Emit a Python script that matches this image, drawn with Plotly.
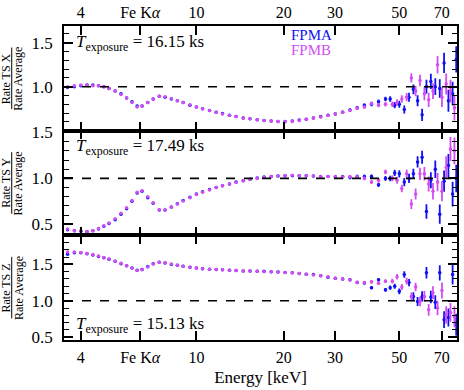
import plotly.graph_objects as go

# ---------------- data ----------------
E_LOW = [3.6, 3.8, 4.0, 4.2, 4.4, 4.6, 4.8, 5.0, 5.25, 5.5,
         5.75, 6.0, 6.25, 6.5, 6.8, 7.1, 7.45, 7.8, 8.2, 8.6,
         9.0, 9.5, 10.0, 10.5, 11.1, 11.7, 12.3, 13.0, 13.7, 14.5,
         15.3, 16.2, 17.1, 18.1, 19.1, 20.2, 21.4, 22.6, 23.9, 25.3,
         26.8, 28.4, 30.1, 31.9, 33.8, 35.8, 37.9, 40.1, 42.4, 44.8]
E_HIGH_A = [46.5, 48.2, 50.0, 52.0, 54.0, 55.9, 57.8, 59.9, 62.0, 64.2,
            66.5, 68.9, 71.3, 73.8, 76.3, 78.5]
E_HIGH_B = [47.3, 49.1, 51.0, 53.0, 55.0, 56.9, 58.9, 61.0, 63.1, 65.3,
            67.7, 70.1, 72.5, 75.0, 77.4]

ERR_LOW = [0.005, 0.005, 0.005, 0.005, 0.005, 0.005, 0.005, 0.005, 0.005, 0.005,
           0.005, 0.005, 0.005, 0.005, 0.005, 0.005, 0.005, 0.005, 0.005, 0.006,
           0.006, 0.006, 0.006, 0.006, 0.007, 0.007, 0.007, 0.007, 0.008, 0.008,
           0.008, 0.009, 0.009, 0.010, 0.010, 0.011, 0.011, 0.012, 0.013, 0.013,
           0.014, 0.015, 0.016, 0.017, 0.018, 0.019, 0.020, 0.022, 0.024, 0.026]
ERR_HIGH_A = [0.030, 0.035, 0.040, 0.045, 0.050, 0.056, 0.062, 0.070, 0.078, 0.086,
              0.095, 0.105, 0.115, 0.125, 0.135, 0.150]
ERR_HIGH_B = [0.032, 0.037, 0.042, 0.047, 0.053, 0.059, 0.066, 0.074, 0.082, 0.090,
              0.100, 0.110, 0.120, 0.130, 0.145]

# Panel X
X_LOW_A = [0.99, 1.00, 1.01, 1.02, 1.02, 1.01, 1.00, 0.98, 0.95, 0.92,
           0.87, 0.83, 0.78, 0.78, 0.82, 0.86, 0.89, 0.88, 0.86, 0.84,
           0.82, 0.79, 0.77, 0.75, 0.73, 0.71, 0.695, 0.675, 0.66, 0.645,
           0.635, 0.625, 0.615, 0.61, 0.605, 0.605, 0.61, 0.62, 0.63, 0.645,
           0.66, 0.675, 0.69, 0.71, 0.735, 0.76, 0.79, 0.80, 0.83, 0.86]
X_LOW_B = [1.00, 1.01, 1.02, 1.02, 1.01, 1.01, 1.00, 0.98, 0.95, 0.91,
           0.87, 0.82, 0.77, 0.78, 0.82, 0.86, 0.89, 0.885, 0.865, 0.84,
           0.82, 0.795, 0.77, 0.75, 0.73, 0.71, 0.69, 0.675, 0.66, 0.645,
           0.635, 0.625, 0.615, 0.61, 0.605, 0.60, 0.605, 0.615, 0.63, 0.645,
           0.655, 0.675, 0.69, 0.71, 0.73, 0.755, 0.77, 0.81, 0.79, 0.80]
X_HIGH_A = [0.86, 0.79, 0.80, 0.74, 0.88, 0.97, 0.84, 0.68, 1.00, 1.06,
            1.00, 0.98, 1.27, 0.84, 0.92, 1.31]
X_HIGH_B = [0.80, 0.82, 0.86, 0.88, 1.10, 0.95, 1.07, 0.92, 0.85, 0.95,
            1.25, 0.88, 1.03, 0.95, 0.76]

# Panel Y
Y_LOW_A = [0.44, 0.43, 0.425, 0.42, 0.43, 0.45, 0.48, 0.51, 0.55, 0.61,
           0.67, 0.75, 0.84, 0.86, 0.79, 0.73, 0.655, 0.655, 0.69, 0.725,
           0.76, 0.795, 0.83, 0.855, 0.88, 0.90, 0.92, 0.94, 0.96, 0.975,
           0.99, 1.005, 1.015, 1.02, 1.025, 1.03, 1.03, 1.03, 1.03, 1.025,
           1.02, 1.02, 1.015, 1.02, 1.01, 1.02, 1.02, 1.02, 0.93, 1.00]
Y_LOW_B = [0.45, 0.43, 0.43, 0.42, 0.43, 0.455, 0.485, 0.515, 0.56, 0.62,
           0.68, 0.76, 0.85, 0.865, 0.80, 0.735, 0.66, 0.655, 0.685, 0.72,
           0.755, 0.79, 0.825, 0.85, 0.875, 0.90, 0.92, 0.94, 0.955, 0.975,
           0.99, 1.00, 1.01, 1.02, 1.025, 1.03, 1.035, 1.03, 1.03, 1.025,
           1.02, 1.02, 1.02, 1.015, 1.02, 1.015, 1.00, 0.96, 0.98, 1.07]
Y_HIGH_A = [1.00, 1.06, 1.05, 0.96, 1.00, 1.05, 1.18, 1.23, 0.64, 0.98,
            1.10, 0.61, 0.97, 1.14, 0.83, 1.00]
Y_HIGH_B = [1.00, 0.98, 0.89, 1.05, 0.72, 0.83, 1.05, 1.05, 0.94, 0.86,
            0.96, 0.86, 1.12, 1.32, 1.30]

# Panel Z
Z_LOW_A = [1.64, 1.66, 1.66, 1.645, 1.63, 1.61, 1.59, 1.57, 1.545, 1.51,
           1.48, 1.45, 1.42, 1.43, 1.47, 1.51, 1.53, 1.52, 1.50, 1.49,
           1.475, 1.46, 1.45, 1.44, 1.435, 1.43, 1.425, 1.42, 1.415, 1.41,
           1.41, 1.405, 1.405, 1.40, 1.395, 1.39, 1.385, 1.375, 1.365, 1.36,
           1.345, 1.325, 1.31, 1.30, 1.29, 1.25, 1.245, 1.18, 1.29, 1.15]
Z_LOW_B = [1.67, 1.67, 1.665, 1.65, 1.635, 1.615, 1.595, 1.575, 1.545, 1.515,
           1.48, 1.45, 1.415, 1.425, 1.465, 1.505, 1.53, 1.525, 1.505, 1.49,
           1.475, 1.46, 1.45, 1.44, 1.435, 1.43, 1.425, 1.42, 1.415, 1.41,
           1.41, 1.405, 1.40, 1.40, 1.395, 1.39, 1.385, 1.375, 1.365, 1.355,
           1.345, 1.33, 1.31, 1.30, 1.285, 1.255, 1.25, 1.26, 1.24, 1.27]
Z_HIGH_A = [1.18, 1.20, 1.13, 1.36, 1.25, 1.06, 0.99, 1.06, 1.385, 1.05,
            0.98, 1.385, 0.74, 0.77, 1.36, 0.67]
Z_HIGH_B = [1.27, 1.33, 1.19, 1.27, 1.06, 1.19, 0.99, 1.06, 0.875, 1.11,
            0.90, 1.14, 0.805, 0.84, 0.78]

PANEL_LABELS = ["X", "Y", "Z"]
EXPOSURES = ["16.15", "17.49", "15.13"]
TICK_E = [4, 6.4, 10, 20, 30, 50, 70]
TICK_TXT = ["4", "Fe K<i>α</i>", "10", "20", "30", "50", "70"]

# ---------------- styling ----------------
FONT = "Liberation Serif, Times New Roman, DejaVu Serif, serif"
BLUE = "#1010f5"
MAG = "#d24ef2"
X_RANGE = [0.544, 1.8976]  # log10(3.5), log10(79)

panels = [
    dict(lowA=X_LOW_A, lowB=X_LOW_B, highA=X_HIGH_A, highB=X_HIGH_B,
         yr=[0.5, 1.69], ytv=[1.0, 1.5], dom=[0.6667, 1.0]),
    dict(lowA=Y_LOW_A, lowB=Y_LOW_B, highA=Y_HIGH_A, highB=Y_HIGH_B,
         yr=[0.38, 1.52], ytv=[0.5, 1.0, 1.5], dom=[0.3333, 0.6667]),
    dict(lowA=Z_LOW_A, lowB=Z_LOW_B, highA=Z_HIGH_A, highB=Z_HIGH_B,
         yr=[0.46, 1.90], ytv=[0.5, 1.0, 1.5], dom=[0.0, 0.3333]),
]

fig = go.Figure()
layout = dict()
shapes = []
annotations = []

for i, p in enumerate(panels):
    n = "" if i == 0 else str(i + 1)
    xa, ya = "x" + n, "y" + n
    for energies, vals, errs, col in [
        (E_LOW + E_HIGH_A, p["lowA"] + p["highA"], ERR_LOW + ERR_HIGH_A, BLUE),
        (E_LOW + E_HIGH_B, p["lowB"] + p["highB"], ERR_LOW + ERR_HIGH_B, MAG),
    ]:
        fig.add_trace(go.Scatter(
            x=energies, y=vals, mode="markers", xaxis=xa, yaxis=ya,
            marker=dict(color=col, size=3.5, symbol="circle"),
            error_y=dict(type="data", array=errs, color=col, thickness=1.8, width=0),
            showlegend=False, hoverinfo="skip"))

    xkw = dict(type="log", range=X_RANGE, anchor=ya, showline=True, linecolor="black",
               linewidth=1.6, mirror="ticks", ticks="inside", ticklen=9, tickwidth=1.6,
               tickcolor="black", tickmode="array", tickvals=TICK_E, ticktext=TICK_TXT,
               showgrid=False, zeroline=False, automargin=False,
               tickfont=dict(family=FONT, size=16, color="black"))
    if i == 0:
        xkw.update(side="top", showticklabels=True, ticklabelstandoff=0)
    elif i == 1:
        xkw.update(showticklabels=False)
    else:
        xkw.update(side="bottom", showticklabels=True, ticklabelstandoff=2,
                   title=dict(text="Energy [keV]", font=dict(family=FONT, size=17, color="black"),
                              standoff=6))
    layout["xaxis" + n] = xkw
    layout["yaxis" + n] = dict(
        domain=p["dom"], range=p["yr"], anchor=xa, showline=True, linecolor="black",
        linewidth=1.6, mirror="ticks", ticks="inside", ticklen=9, tickwidth=1.6,
        tickcolor="black", tickmode="array", tickvals=p["ytv"], tickformat=".1f",
        showgrid=False, zeroline=False, ticklabelstandoff=6, automargin=False,
        tickfont=dict(family=FONT, size=17, color="black"),
        minor=dict(tickmode="linear", tick0=0, dtick=0.1, ticks="inside", ticklen=5,
                   tickwidth=1.3, tickcolor="black", showgrid=False))

    # reference line at 1
    shapes.append(dict(type="line", xref=xa + " domain", yref=ya, x0=0, x1=1, y0=1, y1=1,
                       line=dict(color="black", width=1.6, dash="dash")))

    # y title as fraction
    yc = (p["dom"][0] + p["dom"][1]) / 2
    annotations.append(dict(text="Rate TS " + PANEL_LABELS[i], xref="paper", yref="paper",
                            x=-0.148, y=yc, textangle=-90, showarrow=False,
                            xanchor="center", yanchor="middle",
                            font=dict(family=FONT, size=12, color="black")))
    annotations.append(dict(text="Rate Average", xref="paper", yref="paper",
                            x=-0.116, y=yc, textangle=-90, showarrow=False,
                            xanchor="center", yanchor="middle",
                            font=dict(family=FONT, size=12, color="black")))
    shapes.append(dict(type="line", xref="paper", yref="paper", x0=-0.133, x1=-0.133,
                       y0=yc - 0.098, y1=yc + 0.098, line=dict(color="black", width=1)))

# exposure annotations
exp_pos = [0.946, 0.615, 0.048]
for i in range(3):
    annotations.append(dict(
        text="<i>T</i><sub>exposure</sub> = " + EXPOSURES[i] + " ks",
        xref="paper", yref="paper", x=0.026, y=exp_pos[i], xanchor="left", yanchor="middle",
        showarrow=False, font=dict(family=FONT, size=17, color="black")))

# legend as coloured text
annotations.append(dict(text="FPMA", xref="paper", yref="paper", x=0.572, y=0.970,
                        xanchor="left", yanchor="middle", showarrow=False,
                        font=dict(family=FONT, size=15, color=BLUE)))
annotations.append(dict(text="FPMB", xref="paper", yref="paper", x=0.572, y=0.922,
                        xanchor="left", yanchor="middle", showarrow=False,
                        font=dict(family=FONT, size=15, color=MAG)))

fig.update_layout(
    width=464, height=390,
    margin=dict(l=64, r=7, t=26, b=50, autoexpand=False),
    paper_bgcolor="white", plot_bgcolor="white",
    font=dict(family=FONT),
    shapes=shapes, annotations=annotations,
    **layout)

# remove the default page margin so the 464x390 figure fills the window exactly
fig.write_html("out.html", config={"displayModeBar": False},
               post_script="document.body.style.margin='0';")
